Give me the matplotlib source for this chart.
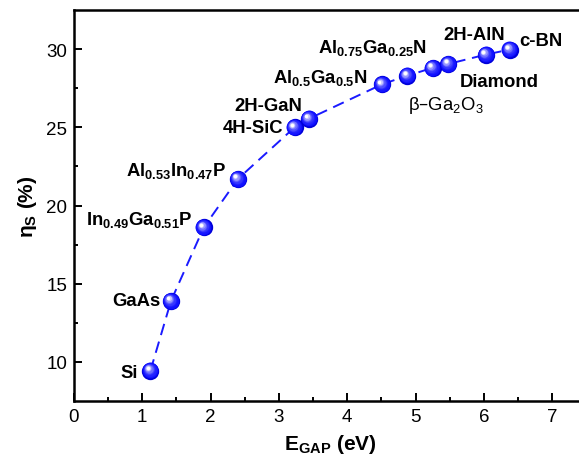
import matplotlib
matplotlib.use('Agg')
import matplotlib.pyplot as plt
import matplotlib.transforms as mtransforms
import numpy as np

# band gap (eV) and limiting efficiency (%) for each semiconductor
materials = ['Si', 'GaAs', 'In$_{0.49}$Ga$_{0.51}$P', 'Al$_{0.53}$In$_{0.47}$P',
             '4H-SiC', '2H-GaN', 'Al$_{0.5}$Ga$_{0.5}$N', 'β–Ga$_2$O$_3$',
             'Al$_{0.75}$Ga$_{0.25}$N', 'Diamond', '2H-AlN', 'c-BN']
egap = [1.12, 1.42, 1.90, 2.40, 3.23, 3.44, 4.51, 4.88, 5.25, 5.48, 6.03, 6.38]
eta = [9.45, 13.9, 18.6, 21.7, 25.0, 25.55, 27.75, 28.3, 28.8, 29.05, 29.65, 29.97]

# label placement (pixels from the point) and alignment
label_dx = [-13, -10, -11, -11, -11, -7, -14, 1, -6, 11, -12, 9]
label_dy = [-6, -4, 3, 4, -5, 9, 2, -33, 16, -22, 16, 5]
label_ha = ['right', 'right', 'right', 'right', 'right', 'right', 'right',
            'left', 'right', 'left', 'center', 'left']
label_bold = [True] * 12
label_bold[7] = False

plt.rcParams['font.family'] = ['Liberation Sans', 'DejaVu Sans']
plt.rcParams['mathtext.default'] = 'regular'

fig = plt.figure(figsize=(5.79, 4.64), dpi=100)
ax = fig.add_axes([0.1278, 0.1336, 0.8848, 0.8427])

ax.plot(egap, eta, color='#1a1aff', lw=1.4, ls=(0, (6, 3.5)), zorder=2)

# shaded spheres: stack of shrinking, lighter circles shifted up-left
ms = 12.5
base = np.array([0.0, 0.0, 0.85])
white = np.array([1.0, 1.0, 1.0])
nlayer = 10
for i in range(nlayer):
    t = i / (nlayer - 1)
    size = ms * (1 - 0.8 * t)
    shift = 0.16 * ms * t
    if i == 0:
        col = base
    else:
        k = t ** 2.2
        col = (1 - k) * np.array([0.05, 0.05, 1.0]) + k * white
    tr = mtransforms.offset_copy(ax.transData, fig=fig, x=-shift, y=shift,
                                 units='points')
    ax.plot(egap, eta, ls='none', marker='o', ms=size, mew=0,
            color=col, transform=tr, zorder=3 + i)

for i, name in enumerate(materials):
    ax.annotate(name, (egap[i], eta[i]), xytext=(label_dx[i], label_dy[i]),
                textcoords='offset pixels', ha=label_ha[i], va='baseline',
                fontsize=13.3, fontweight='bold' if label_bold[i] else 'normal',
                zorder=20)

ax.set_xlim(0, 7.5)
ax.set_ylim(7.5, 32.5)
ax.set_xticks(np.arange(0, 8, 1))
ax.set_xticks(np.arange(0.5, 7.5, 1), minor=True)
ax.set_yticks([10, 15, 20, 25, 30])
ax.set_yticks([12.5, 17.5, 22.5, 27.5], minor=True)
ax.tick_params(which='both', direction='in', width=1.4, labelsize=13.5)
ax.tick_params(which='major', length=5.8, pad=5)
ax.tick_params(which='minor', length=3)
for s in ax.spines.values():
    s.set_linewidth(1.8)

ax.set_xlabel('E$_{GAP}$ (eV)', fontsize=15, fontweight='bold', labelpad=5)
ax.set_ylabel('η$_S$ (%)', fontsize=15, fontweight='bold', labelpad=5)

fig.savefig('out.png', dpi=100)
